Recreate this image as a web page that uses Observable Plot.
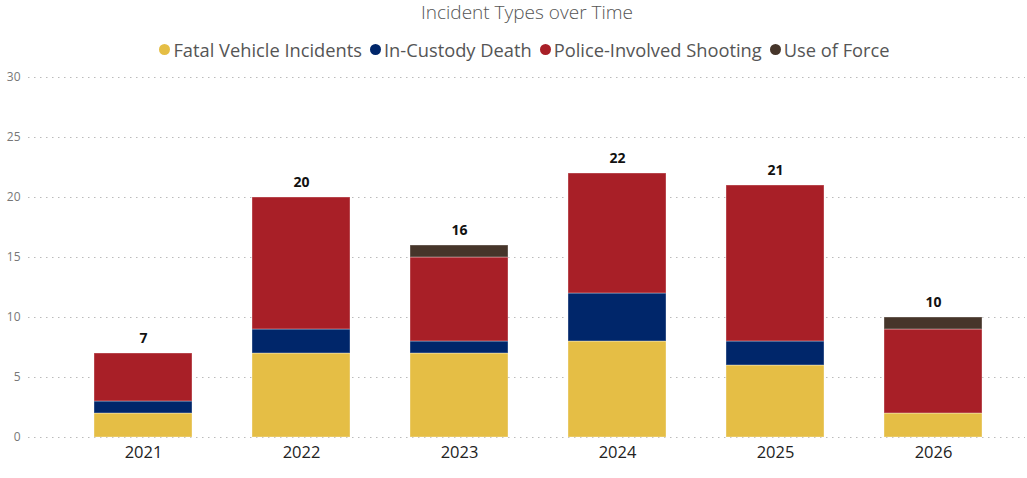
<!DOCTYPE html>
<html>
<head>
<meta charset="utf-8">
<script src="https://cdn.jsdelivr.net/npm/d3@7"></script>
<script src="https://cdn.jsdelivr.net/npm/@observablehq/plot@0.6"></script>
<style>
  body { margin: 0; background: #fff; font-family: "Open Sans", "Segoe UI", sans-serif; }
  #title { box-sizing: border-box; height: 26px; line-height: 24px; text-align: center; font-size: 19px; font-weight: 300; color: #555; padding-left: 27px; }
  #legend { box-sizing: border-box; height: 39px; padding-top: 8px; display: flex; justify-content: center; align-items: center; gap: 8px; font-size: 18.3px; color: #555; padding-left: 22px; }
  #legend .item { display: flex; align-items: center; gap: 3px; }
  #legend .dot { width: 11px; height: 11px; border-radius: 50%; display: inline-block; }
  #chart svg { display: block; }
</style>
</head>
<body>
<div id="title">Incident Types over Time</div>
<div id="legend"></div>
<div id="chart"></div>
<script>
// Incident counts by year, one array per incident type
const years = ["2021", "2022", "2023", "2024", "2025", "2026"];
const types = ["Fatal Vehicle Incidents", "In-Custody Death", "Police-Involved Shooting", "Use of Force"];
const colors = ["#E5BE45", "#00266A", "#A81F27", "#46352A"];
const fatalVehicle = [2, 7, 7, 8, 6, 2];
const inCustody = [1, 2, 1, 4, 2, 0];
const shooting = [4, 11, 7, 10, 13, 7];
const useOfForce = [0, 0, 1, 0, 0, 1];
const yTicks = [0, 5, 10, 15, 20, 25, 30];

const series = [fatalVehicle, inCustody, shooting, useOfForce];
const rows = [];
years.forEach((year, i) => {
  series.forEach((vals, k) => {
    if (vals[i] > 0) rows.push({year, type: types[k], count: vals[i]});
  });
});
const totals = years.map((year, i) => ({year, total: d3.sum(series, s => s[i])}));

// Legend
const legend = document.getElementById("legend");
types.forEach((t, k) => {
  const item = document.createElement("span");
  item.className = "item";
  item.innerHTML = `<span class="dot" style="background:${colors[k]}"></span><span>${t}</span>`;
  legend.appendChild(item);
});

const chart = Plot.plot({
  width: 1027,
  height: 413,
  marginTop: 12,
  marginBottom: 41,
  marginLeft: 28,
  marginRight: 2,
  style: {fontFamily: "'Open Sans', sans-serif", background: "#fff"},
  x: {domain: years, range: [62, 1013], paddingInner: 0.38, paddingOuter: 0.19, label: null},
  y: {domain: [0, 30], ticks: yTicks, label: null},
  color: {domain: types, range: colors},
  marks: [
    Plot.gridY(yTicks, {stroke: "#bbb", strokeOpacity: 1, strokeDasharray: "1.5,4.5"}),
    Plot.axisY(yTicks, {tickSize: 0, tickPadding: 0, dx: -8, fill: "#777", fontSize: 12, textAnchor: "end", label: null}),
    Plot.axisX({tickSize: 0, tickPadding: 9, fontSize: 16.5, fill: "#222", label: null}),
    Plot.barY(rows, Plot.stackY({order: types, x: "year", y: "count", fill: "type", stroke: "#fff", strokeOpacity: 0.35, strokeWidth: 1})),
    Plot.text(totals, {x: "year", y: "total", text: d => String(d.total), dy: -15, fontSize: 14, fontWeight: "bold", fill: "#111"})
  ]
});
document.getElementById("chart").appendChild(chart);
</script>
</body>
</html>
